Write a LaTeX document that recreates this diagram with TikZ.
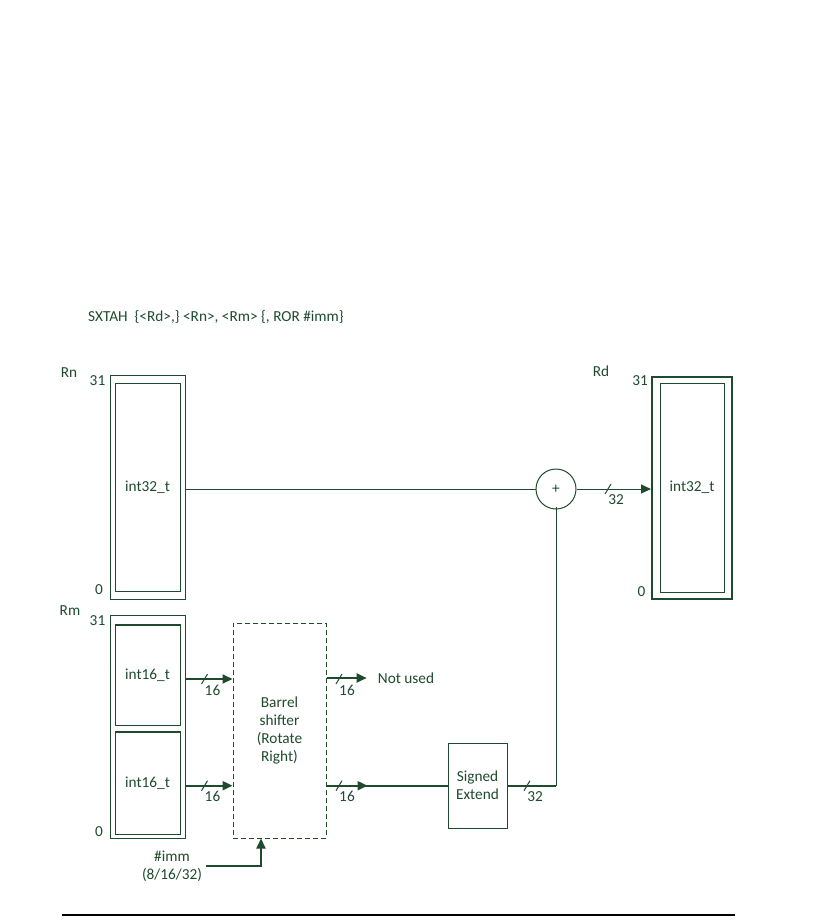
\documentclass[tikz,border=0pt]{standalone}
\usepackage{fontspec}
\setmainfont{Carlito}
\usetikzlibrary{arrows.meta,positioning}
\definecolor{dkgreen}{HTML}{1E4A2D}
\tikzset{
  lbl/.style={font=\fontsize{15.3}{18}\selectfont, text=dkgreen, inner sep=0pt},
  regbox/.style={draw=dkgreen, line width=1pt, inner sep=0pt},
  wire/.style={draw=dkgreen, line width=1pt},
  bus/.style={draw=dkgreen, line width=2pt},
  tip/.style={-{Triangle[length=10pt,width=9pt]}},
}

\begin{document}
\begin{tikzpicture}[x=1pt, y=-1pt]
  \useasboundingbox (0,0) rectangle (834,924);
  \node[lbl, anchor=west] (title) at (88,317) {SXTAH\ \ \{<Rd>,\} <Rn>, <Rm> \{, ROR \#imm\}};

  % registers
  \node[regbox, minimum width=75, minimum height=224] (rn) at (147.5,487) {};
  \node[regbox, lbl, minimum width=65, minimum height=208] (rnin) at (147.5,487.5) {int32\_t};
  \node[regbox, minimum width=75, minimum height=223] (rm) at (147.5,726.5) {};
  \node[regbox, lbl, minimum width=65, minimum height=100] (rmhi) at (147.5,675) {int16\_t};
  \node[regbox, lbl, minimum width=65, minimum height=102] (rmlo) at (147.5,783) {int16\_t};
  \foreach \b in {rmhi,rmlo}{ \draw[dkgreen, line width=2pt] (\b.north west) -- (\b.north east); }
  \node[regbox, line width=2pt, minimum width=80, minimum height=222] (rd) at (692,488) {};
  \node[regbox, lbl, minimum width=64, minimum height=209] (rdin) at (692,487.5) {int32\_t};

  \foreach \x/\y/\t [count=\i] in {69/373/Rn, 97.5/381/31, 99/590/0, 70/611/Rm, 97.5/621/31, 99/832/0,
                                   601/371/Rd, 640/381/31, 641.5/592/0}{
    \node[lbl] (r\i) at (\x,\y) {\t}; }

  % blocks
  \node[regbox, lbl, circle, minimum size=40] (add) at (556,489) {+};
  \node[regbox, lbl, dash pattern=on 5pt off 3pt, align=center, minimum width=93, minimum height=215] (barrel) at (279.5,730.5)
       {Barrel\\shifter\\(Rotate\\Right)};
  \node[regbox, lbl, align=center, minimum width=59, minimum height=85] (sext) at (477.5,785.7) {Signed\\Extend};
  \node[lbl] (notused) at (406,678) {Not used};
  \node[lbl, align=center] (imm) at (172,866) {\#imm\\(8/16/32)};

  % connections
  \draw[wire] (add.west -| rn.east) -- (add.west);
  \draw[wire, tip] (add.east) -- (add.east -| rd.west);
  \draw[bus, tip] (rm.east |- 0,679) -- (barrel.west |- 0,679);
  \draw[bus, tip] (rm.east |- sext.west) -- (barrel.west |- sext.west);
  \draw[bus, tip] (barrel.east |- notused.west) -- ([xshift=-11pt]notused.west);
  \draw[bus] (barrel.east |- sext.west) -- (sext.west);
  \draw[bus, tip] (barrel.east |- sext.west) -- ++(41,0);
  \draw[bus] (sext.east) -- (add.south |- sext.east);
  \draw[wire] (add.south |- sext.east) -- ([yshift=3pt]add.south);
  \draw[bus, tip] ([xshift=4pt]imm.east) -| ([xshift=-18.5pt]barrel.south);

  % bus widths
  \foreach \x/\y/\n [count=\i] in {204.5/679/16, 204.5/785.7/16, 339/679/16, 339/785.7/16,
                                   608/489/32, 527/785.7/32}{
    \draw[dkgreen, line width=1pt] (\x-3,\y+5) -- (\x+3,\y-5);
    \node[lbl] (w\i) at (\x+8,\y+11) {\n}; }

  \draw[line width=1.5pt] (62,915) -- (735,915);
\end{tikzpicture}
\end{document}
